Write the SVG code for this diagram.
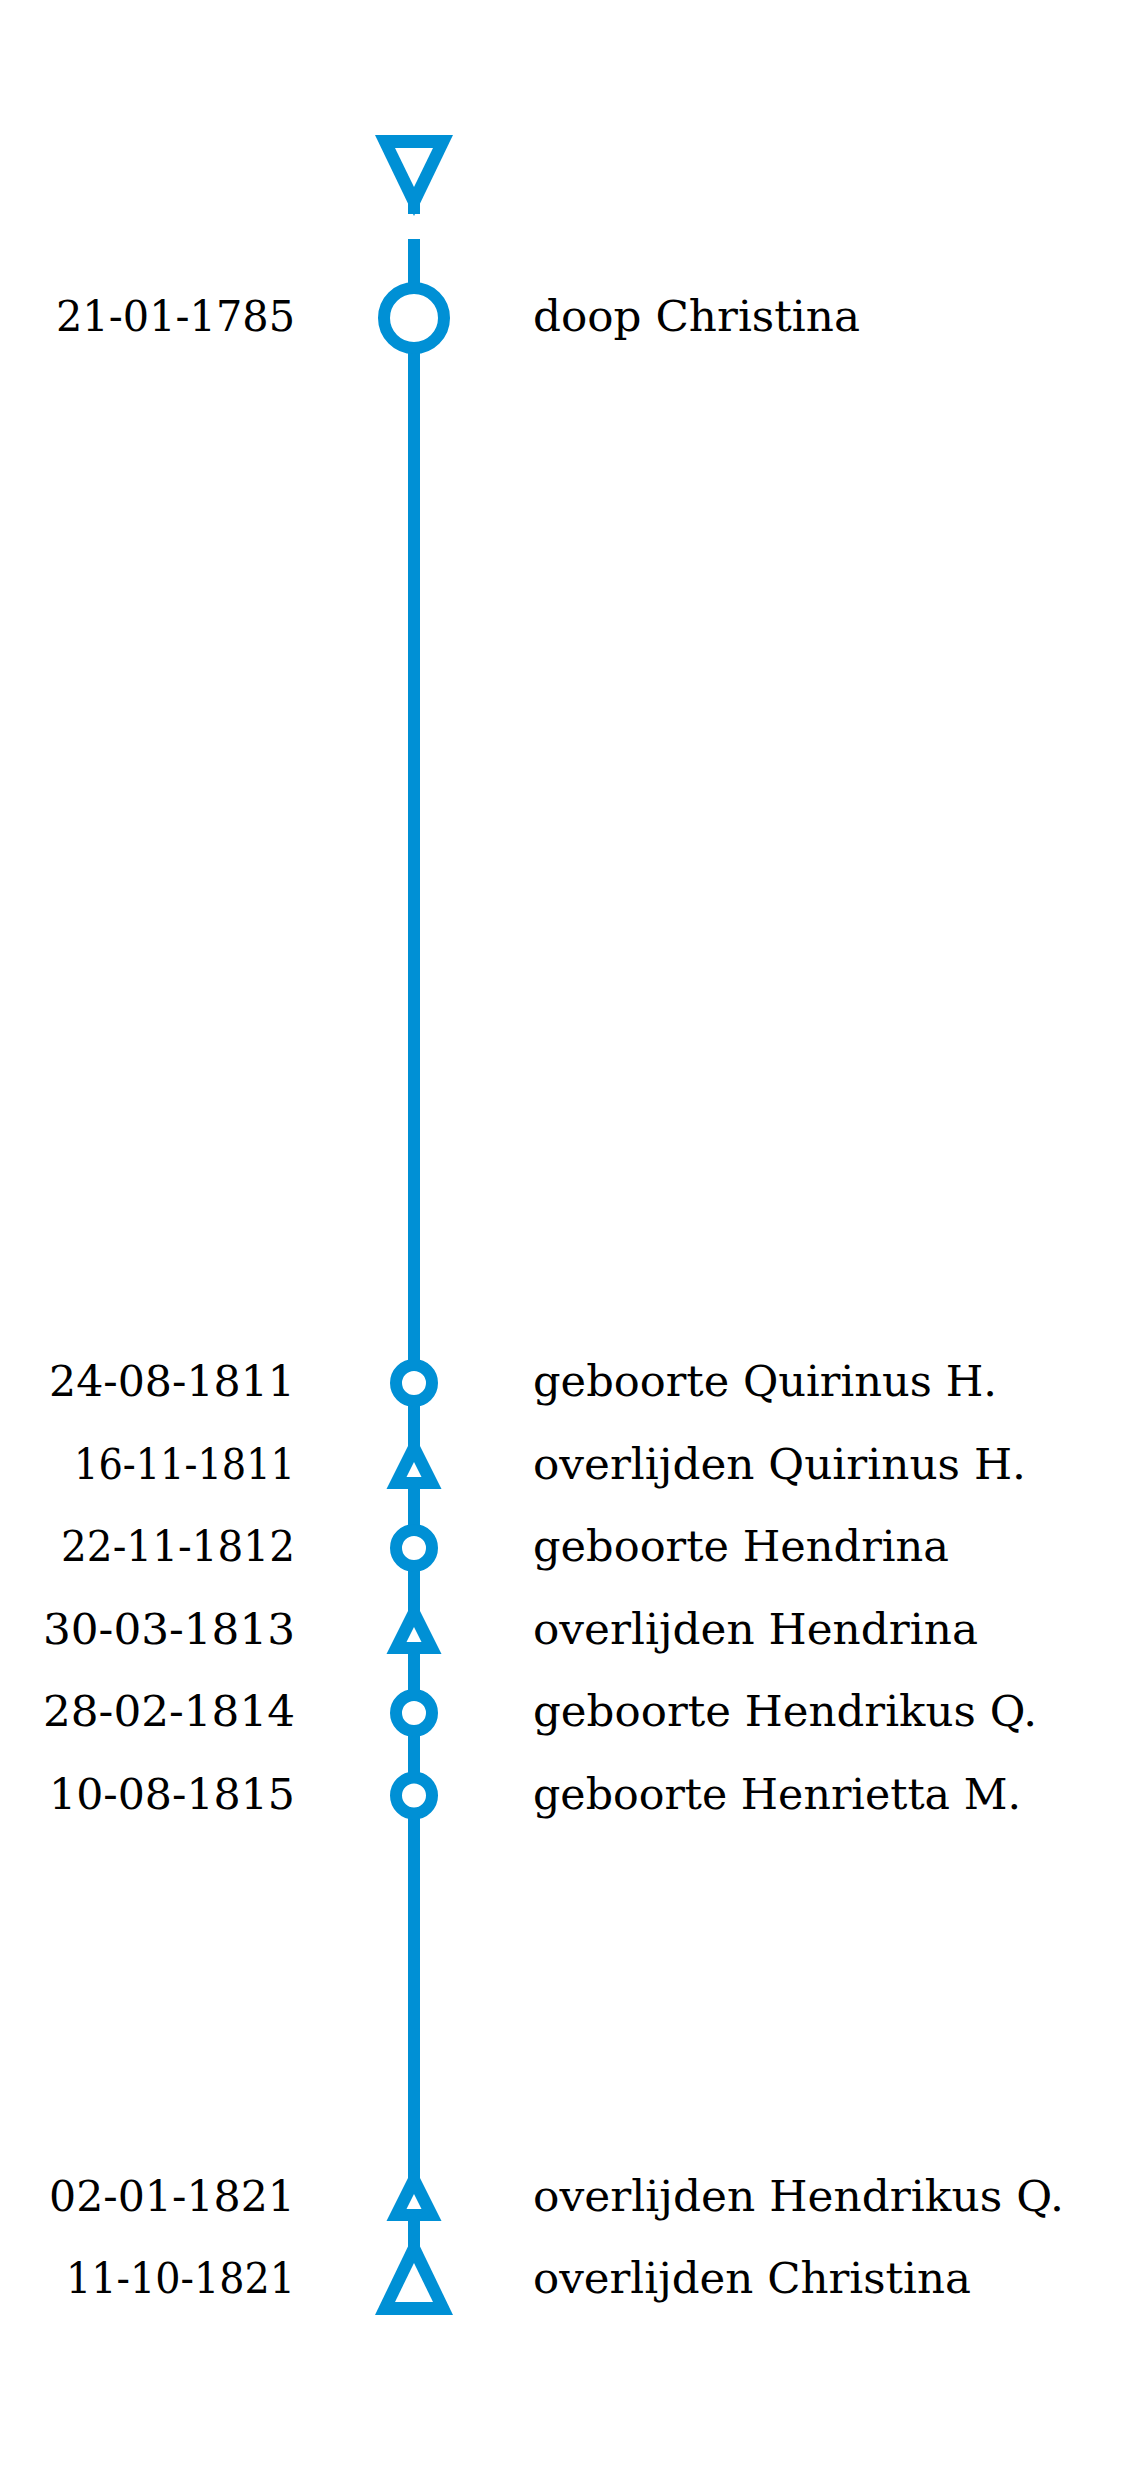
<svg xmlns="http://www.w3.org/2000/svg" width="1123" height="2481" viewBox="0 0 1123 2481">
<style>
.t{font-family:"DejaVu Serif","Liberation Serif",serif;font-size:43px;fill:#000}
.d{text-anchor:end}
.ln{stroke:#0090d5;stroke-width:12;fill:none}
.ci{stroke:#0090d5;stroke-width:12;fill:#fff}
.tb{fill:#0090d5}
.tw{fill:#fff}
</style>
<defs>
<g id="smtri"><polygon class="tb" points="0,-31.5 -27.5,23.5 27.5,23.5"/><polygon class="tw" points="0,-3.5 -7.5,11.5 7.5,11.5"/></g>
</defs>
<rect width="1123" height="2481" fill="#fff"/>
<g id="connectors">
<line class="ln" x1="414" y1="190" x2="414" y2="214"/>
<line class="ln" x1="414" y1="239" x2="414" y2="2255"/>
</g>
<g id="start"><polygon class="tb" points="375,135 453,135 414,216"/><polygon class="tw" points="395,148 433,148 414,187"/></g>
<g id="e1"><circle class="ci" cx="414" cy="318" r="30"/><text class="t d" x="295" y="331" textLength="239" lengthAdjust="spacingAndGlyphs">21-01-1785</text><text class="t" x="533" y="331" textLength="327" lengthAdjust="spacingAndGlyphs">doop Christina</text></g>
<g id="e2"><circle class="ci" cx="414" cy="1383" r="18"/><text class="t d" x="295" y="1396" textLength="246" lengthAdjust="spacingAndGlyphs">24-08-1811</text><text class="t" x="533" y="1396" textLength="464" lengthAdjust="spacingAndGlyphs">geboorte Quirinus H.</text></g>
<g id="e3"><use href="#smtri" x="414" y="1465.5"/><text class="t d" x="295" y="1478.5" textLength="221" lengthAdjust="spacingAndGlyphs">16-11-1811</text><text class="t" x="533" y="1478.5" textLength="493" lengthAdjust="spacingAndGlyphs">overlijden Quirinus H.</text></g>
<g id="e4"><circle class="ci" cx="414" cy="1548" r="18"/><text class="t d" x="295" y="1561" textLength="234" lengthAdjust="spacingAndGlyphs">22-11-1812</text><text class="t" x="533" y="1561" textLength="416" lengthAdjust="spacingAndGlyphs">geboorte Hendrina</text></g>
<g id="e5"><use href="#smtri" x="414" y="1630.5"/><text class="t d" x="295" y="1643.5" textLength="252" lengthAdjust="spacingAndGlyphs">30-03-1813</text><text class="t" x="533" y="1643.5" textLength="445" lengthAdjust="spacingAndGlyphs">overlijden Hendrina</text></g>
<g id="e6"><circle class="ci" cx="414" cy="1713" r="18"/><text class="t d" x="295" y="1726" textLength="252" lengthAdjust="spacingAndGlyphs">28-02-1814</text><text class="t" x="533" y="1726" textLength="504" lengthAdjust="spacingAndGlyphs">geboorte Hendrikus Q.</text></g>
<g id="e7"><circle class="ci" cx="414" cy="1795.5" r="18"/><text class="t d" x="295" y="1808.5" textLength="246" lengthAdjust="spacingAndGlyphs">10-08-1815</text><text class="t" x="533" y="1808.5" textLength="488" lengthAdjust="spacingAndGlyphs">geboorte Henrietta M.</text></g>
<g id="e8"><use href="#smtri" x="414" y="2197.5"/><text class="t d" x="295" y="2210.5" textLength="246" lengthAdjust="spacingAndGlyphs">02-01-1821</text><text class="t" x="533" y="2210.5" textLength="531" lengthAdjust="spacingAndGlyphs">overlijden Hendrikus Q.</text></g>
<g id="e9"><polygon class="tb" points="414,2234 375,2315 453,2315"/><polygon class="tw" points="414,2263 395,2302 433,2302"/><text class="t d" x="295" y="2293" textLength="229" lengthAdjust="spacingAndGlyphs">11-10-1821</text><text class="t" x="533" y="2293" textLength="438" lengthAdjust="spacingAndGlyphs">overlijden Christina</text></g>
</svg>
